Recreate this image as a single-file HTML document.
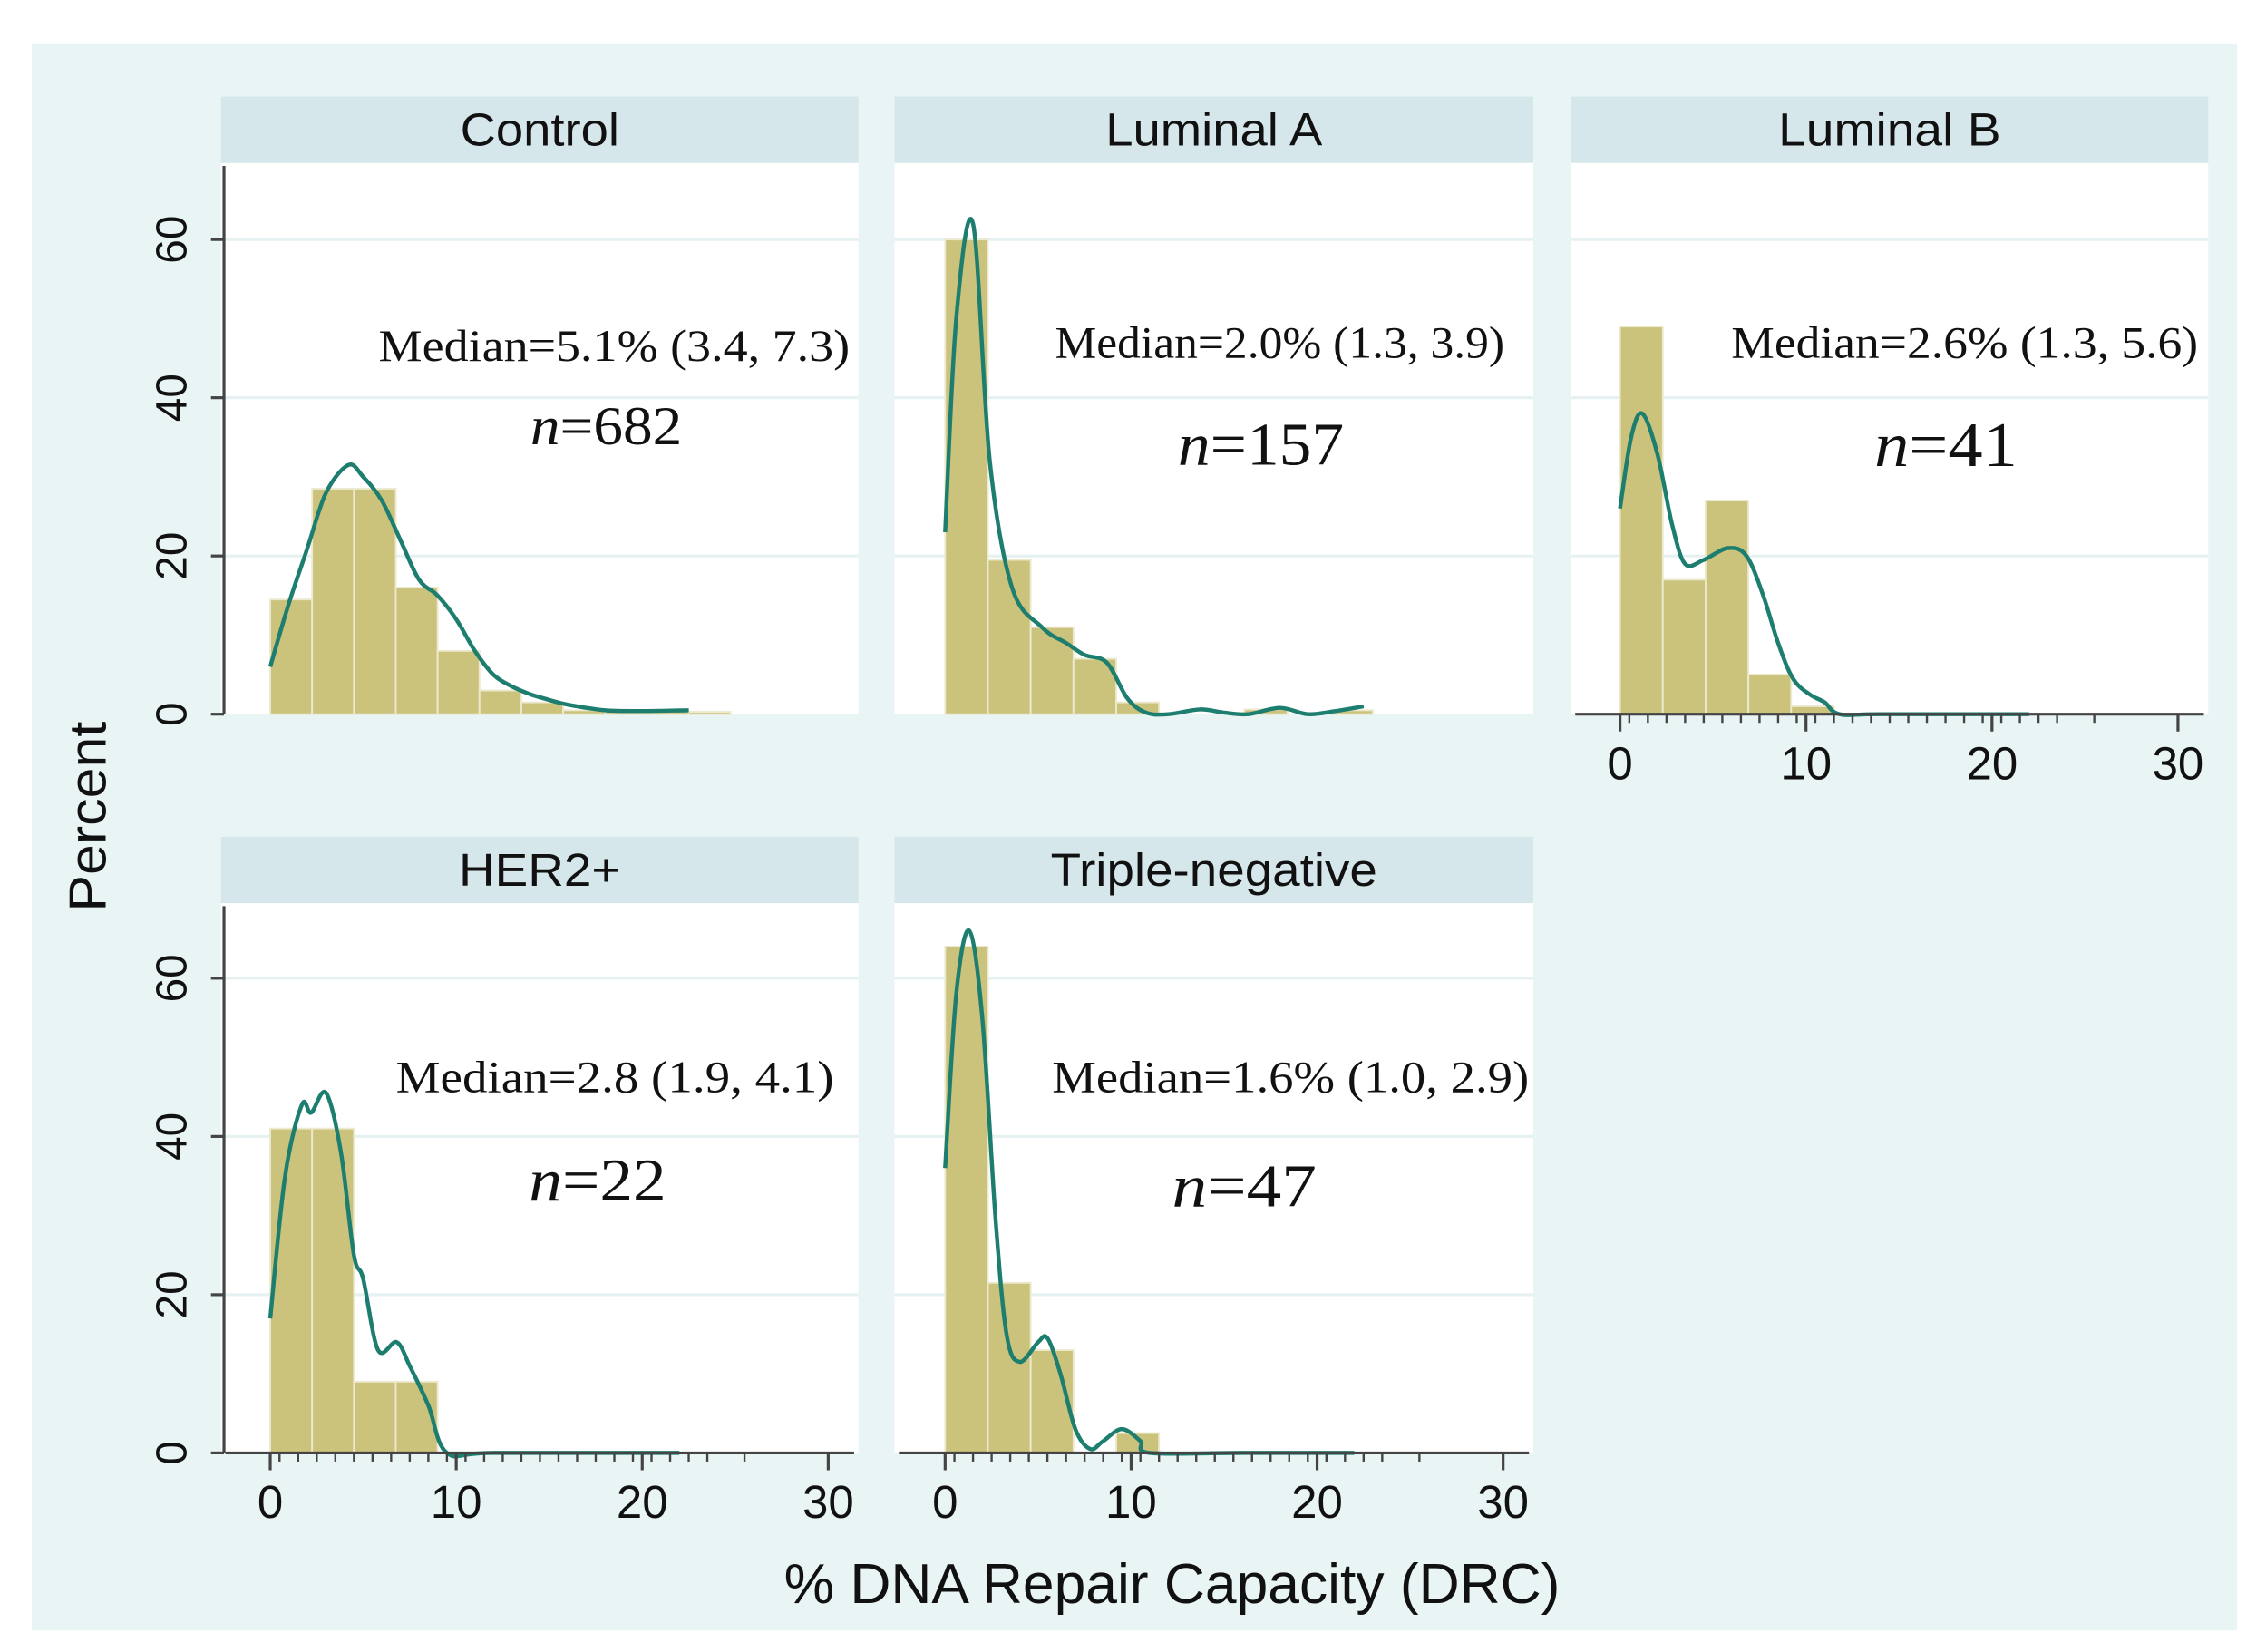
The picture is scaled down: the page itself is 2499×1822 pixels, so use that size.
<!DOCTYPE html>
<html><head><meta charset="utf-8"><style>
html,body{margin:0;padding:0;background:#fff;}
svg{display:block;}
</style></head><body>
<svg id="chart" width="2499" height="1822" viewBox="0 0 1568 1145" preserveAspectRatio="none" xmlns="http://www.w3.org/2000/svg">
<rect x="22" y="30" width="1526" height="1100" fill="#e9f4f4"/>
</svg>
<script>
const panelNames = ["Control","Luminal A","Luminal B","HER2+","Triple-negative"];
const binWidth = [2.25, 2.3, 2.3, 2.25, 2.3];
const barsControl = [14.5, 28.5, 28.5, 16, 8, 3, 1.5, 0.5, 0.5, 0.4, 0.3];
const barsLumA = [60, 19.5, 11, 7, 1.5, 0, 0, 0.6, 0, 0.5];
const barsLumB = [49, 17, 27, 5, 1];
const barsHer2 = [41, 41, 9, 9];
const barsTN = [64, 21.5, 13, 0, 2.5];
const kdeXControl = [0,1,2,3,4.2,5,6,7,8,9,10,11,12,13,14,15,16,18,20,22.5];
const kdeYControl = [6,14,21,28,31.5,30,27,22,17,15,12,8,5,3.5,2.5,1.8,1.2,0.5,0.4,0.5];
const kdeXLumA = [0,0.6,1.5,2.4,3.6,5.2,6.5,7.5,8.7,9.8,10.8,12,13.7,15,16.3,18,19.5,21,22.5];
const kdeYLumA = [23,50,62,32,16,11,9,7.5,6.5,2,0.2,0,0.6,0.2,0,0.8,0,0.4,1];
const kdeXLumB = [0,0.6,1.2,2,2.8,3.5,4.5,5.8,6.8,7.7,8.5,9.3,10.2,11,11.8,14,22];
const kdeYLumB = [26,35,38,33,24,19,19.5,21,20,15,9,4.5,2.5,1.5,0,0,0];
const kdeXHer2 = [0,0.8,1.7,2.2,3,3.8,4.5,5,5.8,6.8,7.5,8.5,9.5,12,22];
const kdeYHer2 = [17,35,44,43,45.5,38,25,22,13,14,11,6,0,0,0];
const kdeXTN = [0,0.6,1.3,2,2.7,3.3,4,5,5.5,6.2,7,7.8,8.5,9.5,10.5,11,16,22];
const kdeYTN = [36,58,66,55,30,15,11.5,14,14.5,10,3,0.5,1.5,3,1.5,0,0,0];
const yTicks = [0,20,40,60];
const xTicks = [0,10,20,30];
const medianLabels = ["Median=5.1% (3.4, 7.3)","Median=2.0% (1.3, 3.9)","Median=2.6% (1.3, 5.6)","Median=2.8 (1.9, 4.1)","Median=1.6% (1.0, 2.9)"];
const nLabels = ["682","157","41","22","47"];

const NS="http://www.w3.org/2000/svg";
const svg=document.getElementById('chart');
function mk(tag,attrs,parent){const e=document.createElementNS(NS,tag);for(const k in attrs)e.setAttribute(k,attrs[k]);(parent||svg).appendChild(e);return e;}

const layout=[
 {x0:153,x1:594,hy:67,top:113,bot:495,zx:187,ylab:true,xaxis:false,mx:262,mw:326,my:250,nx:367,nw:105,ny:308,nf:38},
 {x0:619,x1:1061,hy:67,top:113,bot:495,zx:654,ylab:false,xaxis:false,mx:730,mw:311,my:248,nx:815,nw:115,ny:322,nf:42},
 {x0:1087,x1:1528,hy:67,top:113,bot:495,zx:1121,ylab:false,xaxis:true,mx:1198,mw:323,my:248,nx:1297,nw:99,ny:323,nf:44},
 {x0:153,x1:594,hy:580,top:626,bot:1007,zx:187,ylab:true,xaxis:true,mx:274,mw:303,my:757,nx:366,nw:95,ny:832,nf:42},
 {x0:619,x1:1061,hy:580,top:626,bot:1007,zx:654,ylab:false,xaxis:true,mx:728,mw:330,my:757,nx:811,nw:100,ny:836,nf:42}
];
const headerW=[110,150,154,112,226];
const allBars=[barsControl,barsLumA,barsLumB,barsHer2,barsTN];
const allKx=[kdeXControl,kdeXLumA,kdeXLumB,kdeXHer2,kdeXTN];
const allKy=[kdeYControl,kdeYLumA,kdeYLumB,kdeYHer2,kdeYTN];
const pxPerUnit=12.87, pxPerPct=(495-166)/60;

function smooth(pts){
 let d='M'+pts[0][0].toFixed(1)+','+pts[0][1].toFixed(1);
 for(let i=0;i<pts.length-1;i++){
  const p0=pts[Math.max(0,i-1)],p1=pts[i],p2=pts[i+1],p3=pts[Math.min(pts.length-1,i+2)];
  const c1=[p1[0]+(p2[0]-p0[0])/6,p1[1]+(p2[1]-p0[1])/6];
  const c2=[p2[0]-(p3[0]-p1[0])/6,p2[1]-(p3[1]-p1[1])/6];
  d+='C'+c1[0].toFixed(1)+','+c1[1].toFixed(1)+' '+c2[0].toFixed(1)+','+c2[1].toFixed(1)+' '+p2[0].toFixed(1)+','+p2[1].toFixed(1);
 }
 return d;
}

layout.forEach((L,i)=>{
 const g=mk('g',{});
 
 
 const X=v=>L.zx+v*pxPerUnit;
 const Y=v=>L.bot-v*pxPerPct;
 const hdr=mk('rect',{x:L.x0,y:L.hy,width:L.x1-L.x0,height:L.top-L.hy,fill:'#d6e7ec'},g);
 
 
 const ht=mk('text',{x:(L.x0+L.x1)/2,y:L.hy+34,'text-anchor':'middle','font-family':'Liberation Sans, sans-serif','font-size':32,textLength:headerW[i],lengthAdjust:'spacingAndGlyphs',fill:'#111'},g);
 ht.textContent=panelNames[i];
 
 
 const pa=mk('rect',{x:L.x0,y:L.top,width:L.x1-L.x0,height:L.bot-L.top,fill:'#fff'},g);
 
 
 yTicks.forEach(t=>{ if(t>0){const gl=mk('line',{x1:L.x0,x2:L.x1,y1:Y(t),y2:Y(t),stroke:'#e6f1f1','stroke-width':2},g);
  
  }});
 allBars[i].forEach((v,j)=>{ if(v<=0)return;
  const r=mk('rect',{x:X(j*binWidth[i]),y:Y(v),width:binWidth[i]*pxPerUnit,height:v*pxPerPct,fill:'#cbc27c',stroke:'#ece9cf','stroke-width':1.2},g);
  
  });
 const kx=allKx[i],ky=allKy[i];
 const pts=kx.map((x,j)=>[X(x),Y(ky[j])]);
 const p=mk('path',{d:smooth(pts),fill:'none',stroke:'#1d7e70','stroke-width':2.8,'stroke-linejoin':'round'},g);
 
 
 if(L.ylab){
  const ya=mk('line',{x1:155,x2:155,y1:L.top+2,y2:L.bot,stroke:'#444','stroke-width':2},g);
  
  
  yTicks.forEach(t=>{
   mk('line',{x1:146,x2:155,y1:Y(t),y2:Y(t),stroke:'#444','stroke-width':2},g);
   const tl=mk('text',{x:0,y:0,transform:`translate(129,${Y(t)}) rotate(-90)`,'text-anchor':'middle','font-family':'Liberation Sans, sans-serif','font-size':30,fill:'#111'},g);
   tl.textContent=t;
   
   
  });
 }
 if(L.xaxis){
  const xa=mk('line',{x1:L.x0+3,x2:L.x1-3,y1:L.bot,y2:L.bot,stroke:'#444','stroke-width':2},g);
  
  
  for(let m=0.5;m<26;m+=1){ if(m>23.5&&m<25)continue; mk('line',{x1:X(m),x2:X(m),y1:L.bot,y2:L.bot+6,stroke:'#444','stroke-width':1.5},g);}
  xTicks.forEach(t=>{
   mk('line',{x1:X(t),x2:X(t),y1:L.bot,y2:L.bot+12,stroke:'#444','stroke-width':2},g);
   const tl=mk('text',{x:X(t),y:L.bot+45,'text-anchor':'middle','font-family':'Liberation Sans, sans-serif','font-size':32,fill:'#111'},g);
   tl.textContent=t;
   
   
  });
 }
 const mt=mk('text',{x:L.mx,y:L.my,textLength:L.mw,lengthAdjust:'spacingAndGlyphs','font-family':'Liberation Serif, serif','font-size':31,fill:'#111'},g);
 mt.textContent=medianLabels[i];
 
 
 const nt=mk('text',{x:L.nx,y:L.ny,textLength:L.nw,lengthAdjust:'spacingAndGlyphs','font-family':'Liberation Serif, serif','font-size':L.nf,fill:'#111'},g);
 const ni=mk('tspan',{'font-style':'italic'},nt); ni.textContent='n';
 const nr=mk('tspan',{},nt); nr.textContent='='+nLabels[i];
 
 
});
const yt=mk('text',{transform:'translate(73,566) rotate(-90)','text-anchor':'middle','font-family':'Liberation Sans, sans-serif','font-size':36,textLength:132,lengthAdjust:'spacingAndGlyphs',fill:'#111'});
yt.textContent='Percent';


const xt=mk('text',{x:811,y:1111,'text-anchor':'middle','font-family':'Liberation Sans, sans-serif','font-size':39,textLength:537,lengthAdjust:'spacingAndGlyphs',fill:'#111'});
xt.textContent='% DNA Repair Capacity (DRC)';


</script>
</body></html>
